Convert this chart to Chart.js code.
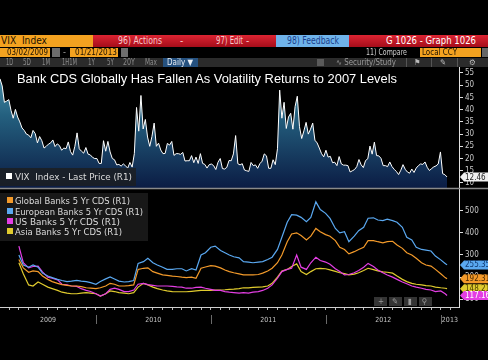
<!DOCTYPE html>
<html><head><meta charset="utf-8">
<script src="https://cdn.jsdelivr.net/npm/chart.js@4.4.0/dist/chart.umd.min.js"></script>
<style>
html,body{margin:0;padding:0;background:#000;width:488px;height:360px;overflow:hidden;}
#wrap{position:relative;width:488px;height:360px;font-family:"DejaVu Sans Condensed","Liberation Sans",sans-serif;}
canvas{position:absolute;left:0;top:0;}
.b{position:absolute;}
.t{position:absolute;white-space:nowrap;transform-origin:left center;}
</style></head>
<body><div id="wrap">
<canvas id="c" width="488" height="360"></canvas>

<!-- row 1 -->
<div class="b" style="left:0;top:35px;width:93px;height:12px;background:#f3a220"></div>
<div class="t" data-w="46" style="left:1px;top:35px;font-size:10px;line-height:12px;color:#1a1000">VIX&nbsp; Index</div>
<div class="b" style="left:93px;top:35px;width:395px;height:12px;background:linear-gradient(#dc2432,#a50d1a)"></div>
<div class="t" data-w="44" style="left:118px;top:35px;font-size:10px;line-height:12px;color:#f6c9cc">96) Actions</div>
<div class="t" style="left:180px;top:35px;font-size:10px;line-height:12px;color:#f6c9cc">-</div>
<div class="t" data-w="27" style="left:216px;top:35px;font-size:10px;line-height:12px;color:#f6c9cc">97) Edit</div>
<div class="t" style="left:246px;top:35px;font-size:10px;line-height:12px;color:#f6c9cc">-</div>
<div class="b" style="left:276px;top:35px;width:73px;height:12px;background:#6fb3ea"></div>
<div class="t" data-w="52" style="left:287px;top:35px;font-size:10px;line-height:12px;color:#1b3f8c">98) Feedback</div>
<div class="t" data-w="90" style="left:386px;top:35px;font-size:10px;line-height:12px;color:#fff">G 1026 - Graph 1026</div>

<!-- row 2 -->
<div class="b" style="left:0;top:48px;width:50px;height:9px;background:#f3a220"></div>
<div class="t" data-w="41" style="left:7px;top:47px;font-size:9px;line-height:11px;color:#1a1000">03/02/2009</div>
<div class="b" style="left:52px;top:48px;width:8px;height:9px;background:#6d6d6d"></div>
<div class="t" style="left:63px;top:47px;font-size:9px;line-height:11px;color:#aaa">-</div>
<div class="b" style="left:70px;top:48px;width:48px;height:9px;background:#f3a220"></div>
<div class="t" data-w="42" style="left:75px;top:47px;font-size:9px;line-height:11px;color:#1a1000">01/21/2013</div>
<div class="b" style="left:121px;top:48px;width:7px;height:9px;background:#6d6d6d"></div>
<div class="t" data-w="41" style="left:366px;top:47px;font-size:9px;line-height:11px;color:#cfcfcf">11) Compare</div>
<div class="b" style="left:420px;top:48px;width:61px;height:9px;background:#f3a220"></div>
<div class="t" data-w="35" style="left:422px;top:47px;font-size:9px;line-height:11px;color:#1a1000">Local CCY</div>
<div class="b" style="left:482px;top:48px;width:6px;height:9px;background:#666"></div>

<!-- row 3 -->
<div class="b" style="left:0;top:58px;width:488px;height:9px;background:#2b2b2b"></div>
<div class="t" data-w="7" style="left:6px;top:57px;font-size:8px;line-height:11px;color:#8c8c8c">1D</div>
<div class="t" data-w="8" style="left:23px;top:57px;font-size:8px;line-height:11px;color:#8c8c8c">5D</div>
<div class="t" data-w="8" style="left:42px;top:57px;font-size:8px;line-height:11px;color:#8c8c8c">1M</div>
<div class="t" data-w="15" style="left:62px;top:57px;font-size:8px;line-height:11px;color:#8c8c8c">1H1M</div>
<div class="t" data-w="7" style="left:88px;top:57px;font-size:8px;line-height:11px;color:#8c8c8c">1Y</div>
<div class="t" data-w="7" style="left:107px;top:57px;font-size:8px;line-height:11px;color:#8c8c8c">5Y</div>
<div class="t" data-w="12" style="left:123px;top:57px;font-size:8px;line-height:11px;color:#8c8c8c">20Y</div>
<div class="t" data-w="12" style="left:145px;top:57px;font-size:8px;line-height:11px;color:#8c8c8c">Max</div>
<div class="b" style="left:163px;top:58px;width:35px;height:9px;background:#25517f"></div>
<div class="t" data-w="26" style="left:167px;top:57px;font-size:8px;line-height:11px;color:#e8eef5">Daily ▼</div>
<div class="b" style="left:317px;top:59px;width:7px;height:7px;background:#5a5a5a"></div>
<div class="t" data-w="60" style="left:336px;top:57px;font-size:8px;line-height:11px;color:#9a9a9a">∿ Security/Study</div>
<div class="b" style="left:406px;top:58px;width:1px;height:9px;background:#555"></div>
<div class="b" style="left:431px;top:58px;width:1px;height:9px;background:#555"></div>
<div class="b" style="left:457px;top:58px;width:1px;height:9px;background:#555"></div>
<div class="t" style="left:414px;top:57px;font-size:8px;line-height:11px;color:#bbb">⚑</div>
<div class="t" style="left:440px;top:57px;font-size:8px;line-height:11px;color:#bbb">✎</div>
<div class="t" style="left:469px;top:57px;font-size:8px;line-height:11px;color:#bbb">⚙</div>

<!-- title -->
<div class="t" data-w="380" style="left:17px;top:72px;font-family:'Liberation Sans',Arial,sans-serif;font-size:12.5px;line-height:15px;color:#fff">Bank CDS Globally Has Fallen As Volatility Returns to 2007 Levels</div>

<!-- VIX legend -->
<div class="b" style="left:0;top:168px;width:136px;height:18px;background:rgba(28,30,34,0.85)"></div>
<div class="b" style="left:6px;top:173px;width:6px;height:6px;background:#fff"></div>
<div class="t" data-w="117" style="left:15px;top:170px;font-size:9.5px;line-height:13px;color:#dcdcdc">VIX&nbsp; Index - Last Price (R1)</div>

<!-- CDS legend -->
<div class="b" style="left:0;top:193px;width:148px;height:48px;background:rgba(26,26,26,0.92)"></div>
<div class="b" style="left:7px;top:197px;width:6px;height:6px;background:#f39a2a"></div>
<div class="t" data-w="115" style="left:15px;top:194px;font-size:9.5px;line-height:13px;color:#dcdcdc">Global Banks 5 Yr CDS (R1)</div>
<div class="b" style="left:7px;top:208px;width:6px;height:6px;background:#5aa8f0"></div>
<div class="t" data-w="128" style="left:15px;top:205px;font-size:9.5px;line-height:13px;color:#dcdcdc">European Banks 5 Yr CDS (R1)</div>
<div class="b" style="left:7px;top:218px;width:6px;height:6px;background:#e43ee4"></div>
<div class="t" data-w="105" style="left:15px;top:215px;font-size:9.5px;line-height:13px;color:#dcdcdc">US Banks 5 Yr CDS (R1)</div>
<div class="b" style="left:7px;top:228px;width:6px;height:6px;background:#e0cb2e"></div>
<div class="t" data-w="107" style="left:15px;top:225px;font-size:9.5px;line-height:13px;color:#dcdcdc">Asia Banks 5 Yr CDS (R1)</div>

<!-- mini toolbar -->
<div class="b" style="left:374px;top:297px;width:13px;height:9px;background:rgba(70,70,70,0.75)"></div>
<div class="b" style="left:389px;top:297px;width:13px;height:9px;background:rgba(70,70,70,0.75)"></div>
<div class="b" style="left:404px;top:297px;width:13px;height:9px;background:rgba(70,70,70,0.75)"></div>
<div class="b" style="left:419px;top:297px;width:13px;height:9px;background:rgba(70,70,70,0.75)"></div>
<div class="t" style="left:378px;top:296px;font-size:8px;line-height:11px;color:#999">+</div>
<div class="t" style="left:392px;top:296px;font-size:8px;line-height:11px;color:#999">✎</div>
<div class="t" style="left:408px;top:296px;font-size:8px;line-height:11px;color:#999">▮</div>
<div class="t" style="left:422px;top:296px;font-size:8px;line-height:11px;color:#999">⚲</div>
</div>

<script>
// ---------- data ----------
const vixValues = [
 52.6,49.7,43,43.5,44.1,39.7,36.5,40.1,37,35,32.5,31.5,30,29.6,28.5,31.5,30.2,26.4,29,27.3,24.3,25,25.9,26.4,27.6,24.9,26,25.3,23.4,24.3,24,26.8,22.9,21.4,25,30.5,24,23,22.2,24.5,21.8,21.5,20.5,20,
 20,18,18,27.3,23,27,22.7,20,19.5,17.4,17.6,16.9,17.8,17,16.1,18.4,16.5,22,40.9,31.2,45.8,32.1,36,28.8,25,29,34.5,25,26.3,23.5,22,22.1,26.2,25.5,27,21.3,22,22,21.7,22.5,19,19.1,19.1,21.2,18.3,20.6,18,22,18,17.6,16.1,17.5,
 17.75,17.1,15.5,18.5,20,15.9,15.7,16.4,19.2,19.1,21.9,29.4,17.9,17.4,17.9,15.3,15,14.75,18.4,17.1,17.4,16,17.9,18.9,21.9,21.1,16,16,19.5,17.5,24,48,36.5,43,32.3,37,38.5,32,41.3,45.5,33,28.2,31.3,34.8,30,32,34.5,27.5,26.4,24.3,22,20.7,
 23.4,20.6,20.9,18.3,18.5,17.1,20.8,17.8,17.3,17.3,17.1,14.5,15,15.5,16.7,19.6,17.4,16.3,19.2,19.9,25.1,21.8,26.7,21.2,21.1,20.1,17.1,17.1,16.7,18.6,16.7,15.6,14.7,13.45,15.2,17.5,15.6,14.5,14,15.7,14.3,16.1,17.1,17.8,17.6,18.6,16.4,15.1,15.9,16.6,17,17.8,22.7,13.8,13.4,12.46];

const globalCds = [280,242,222,228,225,205,190,180,172,166,163,160,160,157,152,150,148,152,160,172,168,160,160,162,165,235,240,242,225,218,210,208,205,203,200,198,200,195,240,246,252,250,242,232,225,220,215,210,210,210,212,218,228,240,265,300,360,395,400,388,368,385,420,405,392,385,365,335,325,305,315,325,335,365,365,360,355,360,362,345,330,310,300,285,265,255,250,235,215,198,192.319];
const europeCds = [300,255,245,255,245,218,205,198,190,185,180,182,185,182,180,175,168,180,192,201,192,182,178,180,185,262,270,285,265,255,245,235,235,238,238,228,238,232,300,310,335,340,320,310,300,292,287,270,268,265,268,270,280,290,325,380,448,482,480,470,450,470,540,505,488,465,420,400,405,360,385,410,425,466,468,458,455,462,455,448,425,380,368,335,325,322,318,295,278,262,255.354];
const usCds = [340,265,242,248,250,224,200,195,188,168,165,160,158,148,140,135,125,115,125,145,150,145,135,135,142,168,172,166,163,160,160,160,158,156,155,150,150,154,155,150,145,140,140,135,132,130,128,130,128,132,135,140,150,165,195,225,235,240,300,245,235,265,290,275,268,258,238,225,210,212,220,230,245,262,248,232,220,210,200,190,178,170,160,155,150,145,142,135,138,125,117.164];
const asiaCds = [265,215,165,160,178,168,155,148,140,132,128,125,125,128,130,128,125,115,125,138,135,130,128,125,130,155,172,165,155,148,142,138,135,134,134,134,136,138,140,140,140,141,142,143,145,146,148,152,152,154,155,156,160,172,200,228,235,248,260,225,212,225,238,240,238,233,226,220,216,210,214,220,230,240,234,228,224,222,218,205,190,180,172,168,165,162,160,155,152,150,148];

const yearLabels = ['2009','2010','2011','2012','2013'];
const vixTicks = [10,15,20,25,30,35,40,45,50,55];
const cdsTicks = [100,200,300,400,500];
const lastLabels = {vix:'12.46', europe:'255.354', global:'192.319', asia:'148.212', us:'117.164'};

// ---------- dates (categories) ----------
const DAY = 86400000;
const vixStart = Date.UTC(2009,2,2);
const vixDates = vixValues.map((v,i)=>vixStart + i*7*DAY);
const cdsDates = [];
for (let y=2009,m=4; y<2013 || (y===2013 && m===0); ) {
  cdsDates.push(Date.UTC(y,m,1)); cdsDates.push(Date.UTC(y,m,15));
  m++; if (m===12){m=0;y++;}
}
cdsDates.push(Date.UTC(2013,0,21));
const xMin = Date.UTC(2009,2,2), xMax = Date.UTC(2013,1,28);
const monthTicks = [];
for (let y=2009,m=3; y<2013 || (y===2013 && m<=1); ) { monthTicks.push(Date.UTC(y,m,1)); m++; if(m===12){m=0;y++;} }

// fit html text widths
document.querySelectorAll('[data-w]').forEach(el=>{
  const w=+el.dataset.w, a=el.getBoundingClientRect().width;
  if (a>0) el.style.transform='scaleX('+(w/a)+')';
});

const pts = (xs,ys)=>ys.map((v,i)=>({x:xs[i],y:v}));
const AX_FONT = {family:"'DejaVu Sans Condensed','Liberation Sans',sans-serif", size:8};

function tag(ctx, y, text, bg, fg){
  const x0=460, h=9;
  ctx.save();
  ctx.fillStyle=bg;
  ctx.beginPath(); ctx.moveTo(x0,y); ctx.lineTo(x0+4,y-h/2); ctx.lineTo(488,y-h/2); ctx.lineTo(488,y+h/2); ctx.lineTo(x0+4,y+h/2); ctx.closePath(); ctx.fill();
  ctx.fillStyle=fg; ctx.font="8px 'DejaVu Sans Condensed','Liberation Sans',sans-serif";
  ctx.textBaseline='middle'; ctx.textAlign='left';
  ctx.fillText(text, x0+5, y+0.5);
  ctx.restore();
}

function vixFill(ctx){
  const ch=ctx.chart, s=ch.scales && ch.scales.yVix;
  if (!ch.chartArea || !s || !isFinite(s.top) || !isFinite(s.bottom) || s.bottom<=s.top) return 'rgba(25,70,110,0.9)';
  const g=ch.ctx.createLinearGradient(0,s.top,0,s.bottom);
  g.addColorStop(0,'#4e97b0'); g.addColorStop(0.4,'#24607f'); g.addColorStop(1,'#0b1c44');
  return g;
}

const deco = {
  id:'deco',
  afterDatasetsDraw(chart){
    const c=chart.ctx, yv=chart.scales.yVix, xs=chart.scales.x;
    c.save();
    c.strokeStyle='#8a8a8a'; c.lineWidth=1.5;
    c.beginPath(); c.moveTo(xs.left, yv.bottom+0.5); c.lineTo(488, yv.bottom+0.5); c.stroke();
    c.restore();
  },
  afterDraw(chart){
    const c=chart.ctx, xs=chart.scales.x, yv=chart.scales.yVix, yc=chart.scales.yCds;
    c.save();
    c.strokeStyle='#6a6a6a'; c.lineWidth=1;
    const bounds=[xMin];
    for (let y=2010;y<=2013;y++) bounds.push(Date.UTC(y,0,1));
    bounds.push(xMax);
    for (let i=1;i<bounds.length-1;i++){
      const px=Math.round(xs.getPixelForValue(bounds[i]))+0.5;
      c.beginPath(); c.moveTo(px, xs.top+8); c.lineTo(px, xs.top+17); c.stroke();
    }
    c.fillStyle='#c4c4c4'; c.font="7px 'DejaVu Sans Condensed','Liberation Sans',sans-serif";
    c.textAlign='center'; c.textBaseline='middle';
    yearLabels.forEach((lab,i)=>{
      const a=xs.getPixelForValue(bounds[i]), b=xs.getPixelForValue(bounds[i+1]);
      c.fillText(lab,(a+b)/2, xs.top+13.5);
    });
    c.restore();
    tag(c, yv.getPixelForValue(vixValues[vixValues.length-1]), lastLabels.vix, '#f0f0f0', '#222');
    tag(c, yc.getPixelForValue(europeCds[europeCds.length-1]), lastLabels.europe, '#5aa8f0', '#123a70');
    tag(c, yc.getPixelForValue(globalCds[globalCds.length-1]), lastLabels.global, '#f39a2a', '#4a2a00');
    tag(c, yc.getPixelForValue(asiaCds[asiaCds.length-1]), lastLabels.asia, '#e0cb2e', '#4a3f00');
    tag(c, yc.getPixelForValue(usCds[usCds.length-1]), lastLabels.us, '#e43ee4', '#fff');
  }
};

new Chart(document.getElementById('c'), {
  type:'line',
  data:{datasets:[
    {label:'VIX Index - Last Price', data:pts(vixDates,vixValues), yAxisID:'yVix', borderColor:'#ffffff', borderWidth:1, pointRadius:0, tension:0, fill:'start', backgroundColor:vixFill},
    {label:'Global Banks 5 Yr CDS', data:pts(cdsDates,globalCds), yAxisID:'yCds', borderColor:'#f39a2a', borderWidth:1.2, pointRadius:0, tension:0, fill:false},
    {label:'European Banks 5 Yr CDS', data:pts(cdsDates,europeCds), yAxisID:'yCds', borderColor:'#5aa8f0', borderWidth:1.2, pointRadius:0, tension:0, fill:false},
    {label:'US Banks 5 Yr CDS', data:pts(cdsDates,usCds), yAxisID:'yCds', borderColor:'#e43ee4', borderWidth:1.2, pointRadius:0, tension:0, fill:false},
    {label:'Asia Banks 5 Yr CDS', data:pts(cdsDates,asiaCds), yAxisID:'yCds', borderColor:'#e0cb2e', borderWidth:1.2, pointRadius:0, tension:0, fill:false}
  ]},
  options:{
    responsive:false, animation:false, maintainAspectRatio:false,
    layout:{padding:{top:67,left:0,right:0,bottom:0}},
    plugins:{legend:{display:false}, tooltip:{enabled:false}},
    scales:{
      x:{type:'linear', min:xMin, max:xMax, bounds:'data',
         afterBuildTicks:(s)=>{s.ticks=monthTicks.map(v=>({value:v}));},
         afterFit:(s)=>{s.height=53;},
         ticks:{display:false, autoSkip:false},
         grid:{drawOnChartArea:false, drawTicks:true, tickLength:3, color:'#bdbdbd', tickColor:'#bdbdbd'},
         border:{color:'#cfcfcf', width:1}},
      yVix:{type:'linear', position:'right', stack:'panels', stackWeight:121, min:7.95, max:57.45, bounds:'data',
         afterBuildTicks:(s)=>{s.ticks=vixTicks.map(v=>({value:v}));},
         afterFit:(s)=>{s.width=29;},
         ticks:{color:'#c8c8c8', font:AX_FONT, padding:2, autoSkip:false},
         grid:{drawOnChartArea:false, tickLength:4, tickColor:'#e0e0e0'},
         border:{color:'#e0e0e0', width:1}},
      yCds:{type:'linear', position:'right', stack:'panels', stackWeight:119, min:65.2, max:602.5, bounds:'data',
         afterBuildTicks:(s)=>{s.ticks=cdsTicks.map(v=>({value:v}));},
         afterFit:(s)=>{s.width=29;},
         ticks:{color:'#c8c8c8', font:AX_FONT, padding:2, autoSkip:false},
         grid:{drawOnChartArea:false, tickLength:4, tickColor:'#e0e0e0'},
         border:{color:'#e0e0e0', width:1}}
    }
  },
  plugins:[deco]
});
</script>
</body></html>
